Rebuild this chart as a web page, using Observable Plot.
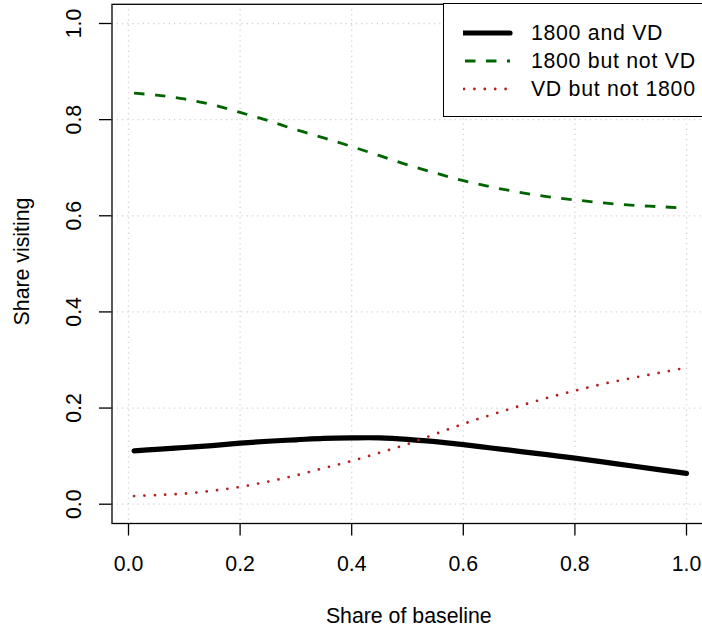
<!DOCTYPE html>
<html>
<head>
<meta charset="utf-8">
<script src="https://cdn.jsdelivr.net/npm/d3@7"></script>
<script src="https://cdn.jsdelivr.net/npm/@observablehq/plot@0.6"></script>
<style>
  html, body { margin: 0; padding: 0; background: white; overflow: hidden; }
  #wrap { position: relative; width: 702px; height: 627px; overflow: hidden; font-family: 'Liberation Sans', Arial, sans-serif; }
  #legend { position: absolute; left: 442.7px; top: 3.1px; width: 300px; height: 114.2px; box-sizing: border-box;
            border: 1.3px solid #000; background: white; }
  .lrow { position: absolute; left: 0; height: 24px; }
  .lrow svg { position: absolute; left: 19.6px; top: 7px; }
  .lrow span { position: absolute; left: 87.2px; top: 0; line-height: 24px; font-size: 21.3px; letter-spacing: 0.73px; white-space: nowrap; color: #000; }
</style>
</head>
<body>
<div id="wrap"></div>
<script>
// ---- data ----
const xTicks = [0, 0.2, 0.4, 0.6, 0.8, 1.0];
const yTicks = [0, 0.2, 0.4, 0.6, 0.8, 1.0];
const baseline = [0.01, 0.05, 0.10, 0.15, 0.20, 0.25, 0.30, 0.35, 0.40, 0.45, 0.50,
                  0.55, 0.60, 0.65, 0.70, 0.75, 0.80, 0.85, 0.90, 0.95, 1.00];
const both1800VD = [0.111, 0.114, 0.118, 0.122, 0.127, 0.131, 0.134, 0.137, 0.138, 0.138, 0.135,
                    0.130, 0.124, 0.117, 0.110, 0.103, 0.096, 0.088, 0.080, 0.072, 0.064];
const only1800 = [0.855, 0.851, 0.843, 0.831, 0.815, 0.798, 0.779, 0.762, 0.744, 0.725, 0.706,
                  0.689, 0.673, 0.660, 0.649, 0.640, 0.633, 0.627, 0.622, 0.619, 0.616];
const onlyVD = [0.017, 0.019, 0.022, 0.028, 0.036, 0.047, 0.060, 0.075, 0.090, 0.107, 0.125,
                0.146, 0.167, 0.186, 0.204, 0.221, 0.236, 0.250, 0.262, 0.273, 0.284];
const seriesNames = ["1800 and VD", "1800 but not VD", "VD but not 1800"];
const seriesValues = [both1800VD, only1800, onlyVD];
const seriesColors = ["#000000", "#006400", "#B22222"];
const seriesWidths = [5.2, 2.8, 2.8];
const seriesDash = [null, "10.5,10.5", "0,10.4"];
const seriesCaps = ["round", "butt", "round"];

const xLabel = "Share of baseline";
const yLabel = "Share visiting";

// ---- build ----
const rows = seriesNames.flatMap((name, i) =>
  baseline.map((b, j) => ({series: name, x: b, y: seriesValues[i][j]})));

const gridStyle = {stroke: "#d3d3d3", strokeOpacity: 1, strokeWidth: 1.3, strokeDasharray: "1.3,3.9"};

const lineMarks = seriesNames.map((name, i) =>
  Plot.line(rows.filter(r => r.series === name), {
    x: "x", y: "y", stroke: seriesColors[i], strokeWidth: seriesWidths[i],
    strokeDasharray: seriesDash[i], strokeLinecap: seriesCaps[i], curve: "catmull-rom"
  }));

const FS = 21.3;

const chart = Plot.plot({
  width: 702,
  height: 627,
  marginLeft: 111.5,
  marginRight: -6,
  marginTop: 3.8,
  marginBottom: 104,
  x: {domain: [0, 1], range: [128, 686]},
  y: {domain: [0, 1], range: [503.7, 23]},
  style: {fontFamily: "'Liberation Sans', Arial, sans-serif", fontSize: FS + "px", background: "white", color: "black"},
  marks: [
    Plot.gridX(xTicks, gridStyle),
    Plot.gridY(yTicks, gridStyle),
    ...lineMarks,
    Plot.frame({stroke: "black", strokeWidth: 1.3}),
    Plot.axisX({ticks: xTicks, tickSize: 12.5, tickPadding: 19.9, tickFormat: d => d.toFixed(1),
                label: null, strokeWidth: 1.3, fontSize: FS}),
    Plot.axisY({ticks: yTicks, tickSize: 12.5, tickPadding: 18.5, tickRotate: -90, tickFormat: d => d.toFixed(1),
                label: null, strokeWidth: 1.3, fontSize: FS}),
    Plot.text([xLabel], {frameAnchor: "bottom", dy: 99, dx: -1.5, lineAnchor: "bottom", textAnchor: "middle", fontSize: FS}),
    Plot.text([yLabel], {frameAnchor: "left", rotate: -90, dx: -83.5, dy: -2.4, lineAnchor: "bottom", textAnchor: "middle", fontSize: FS})
  ]
});

const wrap = document.getElementById("wrap");
wrap.appendChild(chart);

// ---- legend ----
const legend = document.createElement("div");
legend.id = "legend";
const rowCenters = [33, 61, 89];
seriesNames.forEach((name, i) => {
  const row = document.createElement("div");
  row.className = "lrow";
  row.style.top = (rowCenters[i] - 3.1 - 1.3 - 12) + "px";
  row.style.width = "300px";
  const ns = "http://www.w3.org/2000/svg";
  const svg = document.createElementNS(ns, "svg");
  svg.setAttribute("width", "50");
  svg.setAttribute("height", "10");
  const ln = document.createElementNS(ns, "line");
  ln.setAttribute("x1", i === 1 ? "2" : "1");
  ln.setAttribute("x2", "47");
  ln.setAttribute("y1", "5");
  ln.setAttribute("y2", "5");
  ln.setAttribute("stroke", seriesColors[i]);
  ln.setAttribute("stroke-width", seriesWidths[i]);
  ln.setAttribute("stroke-linecap", seriesCaps[i]);
  if (seriesDash[i]) ln.setAttribute("stroke-dasharray", seriesDash[i]);
  svg.appendChild(ln);
  const span = document.createElement("span");
  span.textContent = name;
  row.appendChild(svg);
  row.appendChild(span);
  legend.appendChild(row);
});
wrap.appendChild(legend);
</script>
</body>
</html>
